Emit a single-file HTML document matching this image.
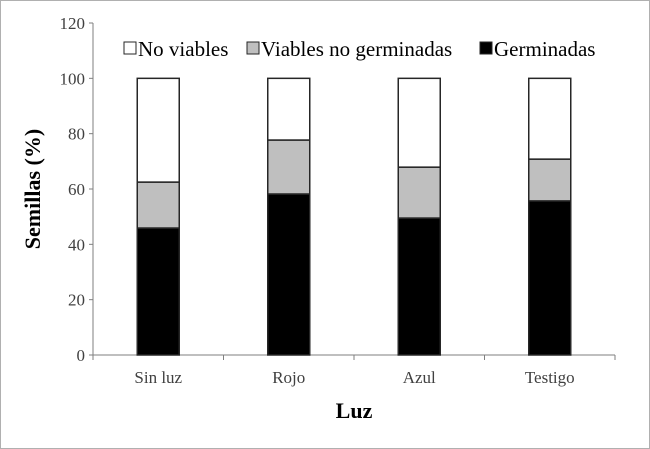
<!DOCTYPE html>
<html><head><meta charset="utf-8"><style>
html,body{margin:0;padding:0;background:#fff}
svg{display:block;font-family:"Liberation Serif",serif}
</style></head><body>
<svg id="chart" width="650" height="449">
<rect x="0.5" y="0.5" width="649" height="448" fill="#fff" stroke="#b0b0b0"/>
<g id="plot"></g>
</svg>
<script>
const categories=["Sin luz","Rojo","Azul","Testigo"];
const germinadas=[45.9,58.2,49.5,55.7];
const viablesNoGerm=[16.6,19.5,18.4,15.1];
const noViables=[37.5,22.3,32.1,29.2];
const yTicks=[0,20,40,60,80,100,120];
const seriesNames=["No viables","Viables no germinadas","Germinadas"];

const NS="http://www.w3.org/2000/svg";
const g=document.getElementById('plot');
const x0=93,x1=615,y0=355,yTop=23;
const y=v=>y0-(v/120)*(y0-yTop);
const band=(x1-x0)/categories.length;
const xc=i=>x0+band*(i+0.5);
function mk(t,a,txt){const e=document.createElementNS(NS,t);for(const k in a)e.setAttribute(k,a[k]);if(txt!==undefined)e.textContent=txt;g.appendChild(e);return e;}

let e;
e=mk('line',{x1:x0,y1:yTop,x2:x0,y2:y0,stroke:'#7f7f7f','stroke-width':1});


e=mk('line',{x1:x0,y1:y0,x2:x1,y2:y0,stroke:'#7f7f7f','stroke-width':1});


yTicks.forEach(v=>{
  e=mk('line',{x1:x0-4,y1:y(v),x2:x0,y2:y(v),stroke:'#7f7f7f'});
  
  
  e=mk('text',{x:x0-8,y:y(v)+6,'text-anchor':'end','font-size':17,fill:'#404040'},v);
  
  
});
for(let i=0;i<=categories.length;i++){
  e=mk('line',{x1:x0+band*i,y1:y0,x2:x0+band*i,y2:y0+5,stroke:'#7f7f7f'});
  
  
}
const bw=42;
categories.forEach((c,i)=>{
  const segs=[[0,germinadas[i],'#000','germinadas'],[germinadas[i],viablesNoGerm[i],'#bfbfbf','viables-no-germinadas'],[germinadas[i]+viablesNoGerm[i],noViables[i],'#fff','no-viables']];
  segs.forEach(s=>{
    e=mk('rect',{x:xc(i)-bw/2,y:y(s[0]+s[1]),width:bw,height:y(s[0])-y(s[0]+s[1]),fill:s[2],stroke:'#262626','stroke-width':1.5});
    
    
  });
  e=mk('text',{x:xc(i),y:383,'text-anchor':'middle','font-size':17,fill:'#404040'},c);
  
  
});
e=mk('text',{x:354,y:418,'text-anchor':'middle','font-size':22,'font-weight':'bold'},'Luz');


e=mk('text',{x:0,y:0,'text-anchor':'middle','font-size':22,'font-weight':'bold',transform:'translate(40,189) rotate(-90)'},'Semillas (%)');


const legX=[124,247,480],fills=['#fff','#bfbfbf','#000'];
seriesNames.forEach((n,i)=>{
  e=mk('rect',{x:legX[i],y:42,width:12,height:12,fill:fills[i],stroke:'#262626'});
  
  
  e=mk('text',{x:legX[i]+14,y:56,'font-size':21,fill:'#000'},n);
  
  
});
</script>
</body></html>
